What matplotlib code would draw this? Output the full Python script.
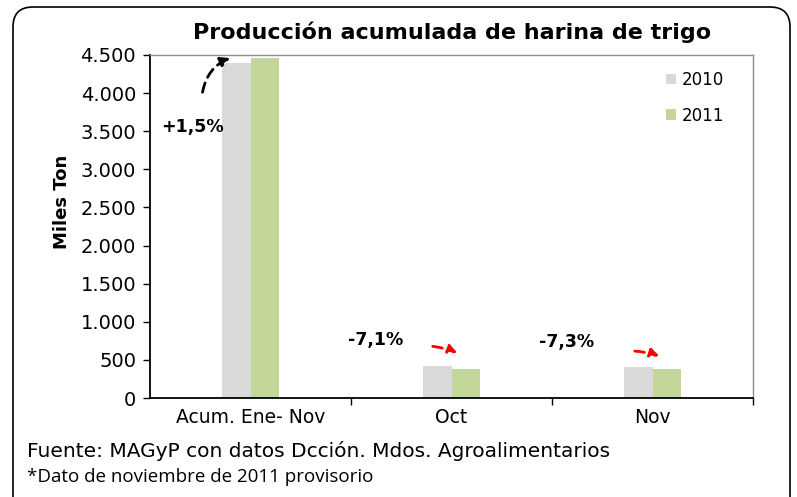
import matplotlib
matplotlib.use("Agg")
import matplotlib.pyplot as plt
import numpy as np
from matplotlib.patches import FancyBboxPatch

categorias = ["Acum. Ene- Nov", "Oct", "Nov"]
serie_2010 = [4390, 415, 410]
serie_2011 = [4456, 386, 380]
variaciones = ["+1,5%", "-7,1%", "-7,3%"]
yticks = [0, 500, 1000, 1500, 2000, 2500, 3000, 3500, 4000, 4500]
ytick_labels = ["0", "500", "1.000", "1.500", "2.000", "2.500", "3.000", "3.500", "4.000", "4.500"]

plt.rcParams["font.family"] = "DejaVu Sans"

W, H = 797, 497
fig = plt.figure(figsize=(W / 100, H / 100), dpi=100)
ax = fig.add_axes([150 / W, 1 - 398 / H, (753 - 150) / W, (398 - 55) / H])

x = np.arange(len(categorias))
ancho = 0.142
ax.bar(x - ancho / 2, serie_2010, ancho, color="#d9d9d9", label="2010")
ax.bar(x + ancho / 2, serie_2011, ancho, color="#c4d79b", label="2011")

ax.set_xlim(-0.5, 2.5)
ax.set_ylim(0, 4500)
ax.set_yticks(yticks)
ax.set_yticklabels(ytick_labels, fontsize=14)
ax.set_xticks(x)
ax.set_xticklabels(categorias, fontsize=13.5)
ax.set_xticks([0.5, 1.5, 2.5], minor=True)
ax.tick_params(axis="x", which="major", length=0, pad=7)
ax.tick_params(axis="x", which="minor", length=5, width=1, direction="out")
ax.tick_params(axis="y", length=5, width=1, direction="out", pad=5)

for s in ["left", "bottom"]:
    ax.spines[s].set_color("black")
    ax.spines[s].set_linewidth(1.3)
for s in ["top", "right"]:
    ax.spines[s].set_color("#8c8c8c")
    ax.spines[s].set_linewidth(1.0)

ax.set_ylabel("Miles Ton", fontsize=13, fontweight="bold")
ax.yaxis.set_label_coords(-(150 - 71) / (753 - 150), (398 - 202) / (398 - 55))

leg = ax.legend(loc="upper left", bbox_to_anchor=((666 - 150) / 603, 1 - (71 - 55) / 343),
                frameon=False, prop={"size": 12}, borderpad=0, borderaxespad=0,
                handlelength=0.6, handleheight=0.6, handletextpad=0.35, labelspacing=1.05)

fig.text(452 / W, 1 - 32 / H, "Producción acumulada de harina de trigo", ha="center", va="center",
         fontsize=16, fontweight="bold")

# variaciones
ax.text(-0.291, 3555, variaciones[0], ha="center", va="center", fontsize=12.5, fontweight="bold")
ax.text(0.624, 761, variaciones[1], ha="center", va="center", fontsize=12.5, fontweight="bold")
ax.text(1.57, 735, variaciones[2], ha="center", va="center", fontsize=12.5, fontweight="bold")

ax.annotate("", xy=(-0.087, 4474), xytext=(-0.241, 3975),
            arrowprops=dict(arrowstyle="-|>", color="black", lw=2, ls=(0, (3.5, 2.2)),
                            connectionstyle="arc3,rad=-0.3", mutation_scale=14))
ax.annotate("", xy=(1.042, 577), xytext=(0.893, 682),
            arrowprops=dict(arrowstyle="-|>", color="red", lw=2, ls=(0, (3.5, 2.2)),
                            connectionstyle="arc3,rad=-0.08", mutation_scale=13))
ax.annotate("", xy=(2.047, 538), xytext=(1.898, 617),
            arrowprops=dict(arrowstyle="-|>", color="red", lw=2, ls=(0, (3.5, 2.2)),
                            connectionstyle="arc3,rad=-0.08", mutation_scale=13))

fig.text(27 / W, 1 - 451 / H, "Fuente: MAGyP con datos Dcción. Mdos. Agroalimentarios",
         ha="left", va="center", fontsize=14.5)
fig.text(27 / W, 1 - 477 / H, "*Dato de noviembre de 2011 provisorio",
         ha="left", va="center", fontsize=13.5, family="Open Sans")

borde = FancyBboxPatch((13 / W, -20 / H), (790 - 13) / W, (490 + 20) / H,
                       boxstyle="round,pad=0,rounding_size=0.025", transform=fig.transFigure,
                       fill=False, edgecolor="black", lw=1.2, mutation_aspect=W / H)
fig.patches.append(borde)

fig.savefig("out.png", dpi=100)
